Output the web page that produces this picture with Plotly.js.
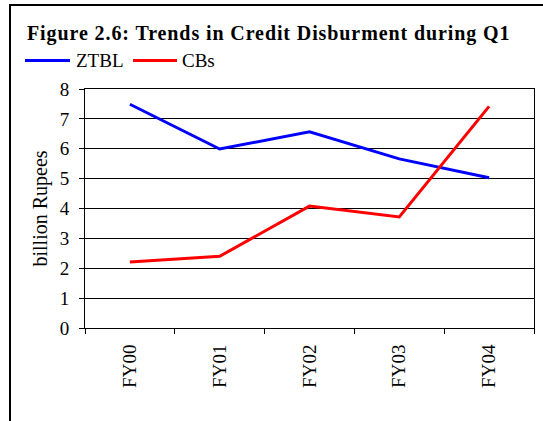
<!DOCTYPE html>
<html>
<head>
<meta charset="utf-8">
<script src="https://cdn.plot.ly/plotly-3.0.1.min.js"></script>
<style>html,body{margin:0;padding:0;background:#fff;}#chart{width:543px;height:421px;}
.gtitle{letter-spacing:0.9px;}</style>
</head>
<body>
<div id="chart"></div>
<script>
const categories = ["FY00", "FY01", "FY02", "FY03", "FY04"];
const ztbl = [7.49, 5.99, 6.57, 5.66, 5.03];
const cbs = [2.21, 2.40, 4.08, 3.72, 7.42];
const seriesNames = ["ZTBL", "CBs"];
const seriesColors = ["#0000FF", "#FF0000"];
const yTicks = [0, 1, 2, 3, 4, 5, 6, 7, 8];

const serif = "Liberation Serif";

const traces = [ztbl, cbs].map((vals, i) => ({
  x: categories, y: vals, name: seriesNames[i], type: "scatter", mode: "lines",
  line: {color: seriesColors[i], width: 3}, showlegend: false
}));

// plot area pixel geometry -> paper coords
const L = 85, R = 534, T = 89, B = 328;
const px = p => (p - L) / (R - L);
const py = p => (B - p) / (B - T);

// manual legend (line sample + label), matching the reference
const legendItems = [{x0: 25, x1: 70, tx: 74}, {x0: 133, x1: 177, tx: 180}];
const legendY = 60.5;
const legendShapes = legendItems.map((it, i) => ({
  type: "line", xref: "paper", yref: "paper",
  x0: px(it.x0), x1: px(it.x1), y0: py(legendY), y1: py(legendY),
  line: {color: seriesColors[i], width: 3}
}));
const legendAnns = legendItems.map((it, i) => ({
  text: seriesNames[i], xref: "paper", yref: "paper",
  x: px(it.tx), y: py(legendY), xanchor: "left", yanchor: "middle",
  showarrow: false, font: {family: serif, size: 19, color: "#000"}
}));

const layout = {
  width: 543, height: 421,
  margin: {l: L, r: 543 - R, t: T, b: 421 - B},
  paper_bgcolor: "#fff", plot_bgcolor: "#fff",
  font: {family: serif, color: "#000", size: 19},
  title: {text: "<b>Figure 2.6: Trends in Credit Disburment during Q1</b>",
          font: {family: serif, size: 20, color: "#000"},
          x: 27 / 543, xref: "container", xanchor: "left", y: 0.922, yanchor: "middle"},
  showlegend: false,
  xaxis: {type: "category", showline: true, linecolor: "#000", linewidth: 1, mirror: true,
          ticks: "outside", tickson: "boundaries", ticklen: 5, tickcolor: "#000",
          tickangle: -90, showgrid: false, tickfont: {family: serif, size: 19},
          ticklabelstandoff: 8, range: [-0.5, 4.5]},
  yaxis: {range: [0, 8], tickvals: yTicks, ticktext: yTicks.map(String),
          showline: true, linecolor: "#000", linewidth: 1, mirror: true,
          ticks: "outside", ticklen: 5, tickcolor: "#000",
          showgrid: true, gridcolor: "#000", gridwidth: 1, zeroline: false,
          tickfont: {family: serif, size: 19}, ticklabelstandoff: 6,
          title: {text: "billion Rupees", font: {family: serif, size: 20}, standoff: 6}},
  annotations: legendAnns,
  shapes: [{type: "rect", xref: "paper", yref: "paper",
            x0: px(10), x1: px(548), y0: py(430), y1: py(5),
            line: {color: "#000", width: 2}, fillcolor: "rgba(0,0,0,0)"}].concat(legendShapes)
};

Plotly.newPlot("chart", traces, layout, {displayModeBar: false, staticPlot: true});
</script>
</body>
</html>
